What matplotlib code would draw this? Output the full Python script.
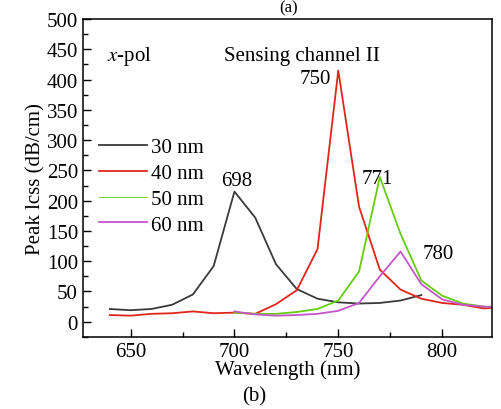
import matplotlib
matplotlib.use("Agg")
import matplotlib.pyplot as plt
from matplotlib.ticker import MultipleLocator

plt.rcParams['font.family'] = ['Liberation Serif', 'DejaVu Serif']
plt.rcParams['mathtext.fontset'] = 'stix'

wl_30 = [640, 650, 660, 670, 680, 690, 700, 710, 720, 730, 740, 750, 760, 770, 780, 790]
loss_30 = [21, 19, 21, 28, 45, 92, 215, 172, 95, 54, 38, 32, 30, 31, 35, 44]

wl_40 = [640, 650, 660, 670, 680, 690, 700, 710, 720, 730, 740, 750, 760, 770, 780, 790, 800, 810, 820, 825]
loss_40 = [11, 10, 13, 14, 17, 14, 15, 13, 29, 52, 120, 415, 190, 86, 53, 38, 31, 28, 22, 23]

wl_50 = [700, 710, 720, 730, 740, 750, 760, 770, 780, 790, 800, 810, 820, 825]
loss_50 = [15, 13, 13, 16, 21, 35, 83, 239, 145, 68, 43, 30, 25, 24]

wl_60 = [700, 710, 720, 730, 740, 750, 760, 770, 780, 790, 800, 810, 820, 825]
loss_60 = [17, 12, 10, 11, 13, 18, 31, 75, 116, 62, 37, 28, 25, 24]

labels = ['30 nm', '40 nm', '50 nm', '60 nm']
colors = ['#3a3a3a', '#e0251b', '#66cc11', '#c455cc']

peak_text = ['698', '750', '771', '780']
peak_pos = [(701, 233), (739, 402), (769, 237), (798, 112)]

FS = 15

fig = plt.figure(figsize=(5.02, 4.10), dpi=100)
ax = fig.add_axes([0.165, 0.176, 0.815, 0.775])

series = [(wl_30, loss_30), (wl_40, loss_40), (wl_50, loss_50), (wl_60, loss_60)]
for (x, y), lab, c in zip(series, labels, colors):
    ax.plot(x, y, color=c, lw=1.3, label=lab)

for t, (px, py) in zip(peak_text, peak_pos):
    ax.text(px, py, t, fontsize=FS, ha='center', va='center')

ax.text(0.058, 0.885, r'$x$-pol', transform=ax.transAxes, fontsize=FS, ha='left', va='center')
ax.text(0.535, 0.885, 'Sensing channel II', transform=ax.transAxes, fontsize=FS, ha='center', va='center')

ax.set_xlim(627, 824)
ax.set_ylim(-25, 500)
ax.xaxis.set_major_locator(MultipleLocator(50))
ax.xaxis.set_minor_locator(MultipleLocator(25))
ax.yaxis.set_major_locator(MultipleLocator(50))
ax.yaxis.set_minor_locator(MultipleLocator(25))
ax.tick_params(which='both', direction='in', top=False, right=False, labelsize=FS)
ax.tick_params(which='major', length=6, width=1)
ax.tick_params(which='minor', length=3.5, width=1)
for s in ax.spines.values():
    s.set_linewidth(1.1)

ax.set_xlabel('Wavelength (nm)', fontsize=FS, labelpad=-1)
ax.set_ylabel('Peak lcss (dB/cm)', fontsize=FS, labelpad=1)

leg = ax.legend(loc='upper left', bbox_to_anchor=(0.015, 0.66), frameon=False,
                fontsize=FS, handlelength=2.3, handletextpad=0.2, labelspacing=0.3,
                borderpad=0)
leg.get_lines()[2].set_linewidth(0.6)

fig.text(0.575, 1.0, '(a)', fontsize=12, ha='center', va='top')
fig.text(0.506, 0.032, '(b)', fontsize=FS, ha='center', va='center')

fig.savefig('out.png', dpi=100)
